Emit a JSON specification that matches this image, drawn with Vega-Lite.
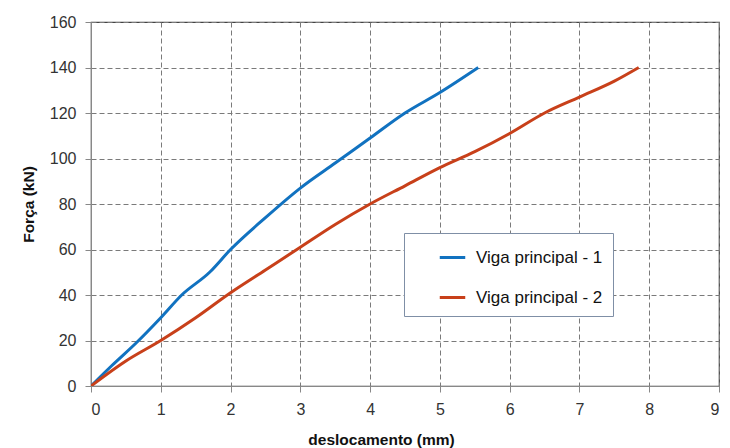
{
  "$schema": "https://vega.github.io/schema/vega-lite/v6.json",
  "width": 628,
  "height": 364,
  "autosize": "none",
  "padding": {"left": 91, "top": 22, "right": 11, "bottom": 62},
  "background": "white",
  "config": {
    "font": "Liberation Sans",
    "view": {"stroke": "#444444", "strokeWidth": 1.2},
    "axis": {
      "labelFont": "Liberation Sans",
      "labelFontSize": 16,
      "labelColor": "#333333",
      "titleFont": "Liberation Sans",
      "titleFontSize": 15.5,
      "titleFontWeight": "bold",
      "titleColor": "#111111",
      "domainColor": "#888888",
      "tickColor": "#888888",
      "tickSize": 6,
      "gridColor": "#7a7a7a",
      "gridDash": [5, 3],
      "gridWidth": 1
    }
  },
  "data": {
    "values": [
      {"s": "Viga principal - 1", "x": 0, "y": 0},
      {"s": "Viga principal - 1", "x": 0.3, "y": 9},
      {"s": "Viga principal - 1", "x": 0.65, "y": 19},
      {"s": "Viga principal - 1", "x": 1.0, "y": 30},
      {"s": "Viga principal - 1", "x": 1.3, "y": 40},
      {"s": "Viga principal - 1", "x": 1.7, "y": 50},
      {"s": "Viga principal - 1", "x": 2.0, "y": 60},
      {"s": "Viga principal - 1", "x": 2.5, "y": 74},
      {"s": "Viga principal - 1", "x": 3.0, "y": 87},
      {"s": "Viga principal - 1", "x": 3.5, "y": 98},
      {"s": "Viga principal - 1", "x": 4.0, "y": 109},
      {"s": "Viga principal - 1", "x": 4.5, "y": 120},
      {"s": "Viga principal - 1", "x": 5.0, "y": 129},
      {"s": "Viga principal - 1", "x": 5.55, "y": 140},
      {"s": "Viga principal - 2", "x": 0, "y": 0},
      {"s": "Viga principal - 2", "x": 0.5, "y": 11},
      {"s": "Viga principal - 2", "x": 1.0, "y": 20},
      {"s": "Viga principal - 2", "x": 1.5, "y": 30},
      {"s": "Viga principal - 2", "x": 2.0, "y": 41},
      {"s": "Viga principal - 2", "x": 2.5, "y": 51},
      {"s": "Viga principal - 2", "x": 3.0, "y": 61},
      {"s": "Viga principal - 2", "x": 3.5, "y": 71},
      {"s": "Viga principal - 2", "x": 4.0, "y": 80},
      {"s": "Viga principal - 2", "x": 4.5, "y": 88},
      {"s": "Viga principal - 2", "x": 5.0, "y": 96},
      {"s": "Viga principal - 2", "x": 5.5, "y": 103},
      {"s": "Viga principal - 2", "x": 6.0, "y": 111},
      {"s": "Viga principal - 2", "x": 6.5, "y": 120},
      {"s": "Viga principal - 2", "x": 7.0, "y": 127},
      {"s": "Viga principal - 2", "x": 7.5, "y": 134},
      {"s": "Viga principal - 2", "x": 7.85, "y": 140}
    ]
  },
  "mark": {"type": "line", "strokeWidth": 3, "interpolate": "monotone", "clip": true},
  "encoding": {
    "x": {
      "field": "x",
      "type": "quantitative",
      "title": "deslocamento (mm)",
      "scale": {"domain": [0, 9], "nice": false},
      "axis": {"values": [0,1,2,3,4,5,6,7,8,9], "labelPadding": 9, "titlePadding": 15, "titleX": 290}
    },
    "y": {
      "field": "y",
      "type": "quantitative",
      "title": "Força (kN)",
      "scale": {"domain": [0, 160], "nice": false},
      "axis": {"values": [0,20,40,60,80,100,120,140,160], "labelPadding": 9, "titlePadding": 13}
    },
    "color": {
      "field": "s",
      "type": "nominal",
      "scale": {"domain": ["Viga principal - 1", "Viga principal - 2"], "range": ["#1172c0", "#c8401a"]},
      "legend": {
        "title": null,
        "orient": "none",
        "legendX": 313,
        "legendY": 211,
        "direction": "vertical",
        "symbolType": "stroke",
        "symbolSize": 650,
        "symbolStrokeWidth": 3,
        "symbolOffset": 24,
        "labelFontSize": 17,
        "labelFont": "Liberation Sans",
        "labelColor": "#111111",
        "labelOffset": 9,
        "rowPadding": 17,
        "padding": 10,
        "strokeColor": "#7f8fa6",
        "fillColor": "white",
        "labelLimit": 300,
        "offset": 0
      }
    }
  }
}
